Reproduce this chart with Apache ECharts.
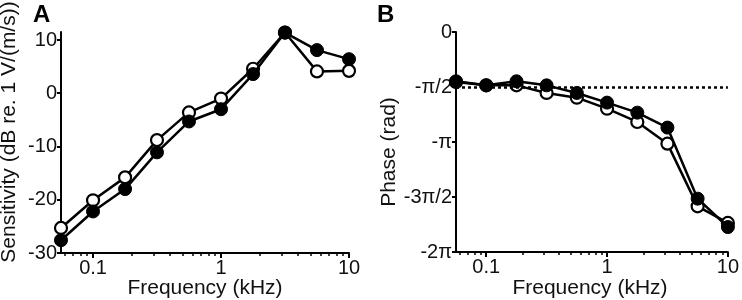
<!DOCTYPE html>
<html>
<head>
<meta charset="utf-8">
<script src="https://cdn.jsdelivr.net/npm/echarts@6/dist/echarts.min.js"></script>
<style>html,body{margin:0;padding:0;background:#fff}#c{width:742px;height:300px}</style>
</head>
<body>
<div id="c"></div>
<script>
// Frequencies (kHz)
var freqs = [0.0562, 0.1, 0.178, 0.316, 0.562, 1, 1.78, 3.16, 5.62, 10];
// Panel A: sensitivity (dB re. 1 V/(m/s))
var sensFilled = [-27.6, -22.2, -18.0, -11.1, -5.3, -3.0, 3.6, 11.4, 8.1, 6.4];
var sensOpen   = [-25.3, -20.1, -15.8, -8.8, -3.6, -1.0, 4.6, 11.4, 4.1, 4.2];
// Panel B: phase (in units of pi rad)
var phaseFilled = [-0.448, -0.485, -0.448, -0.485, -0.554, -0.642, -0.733, -0.869, -1.515, -1.773];
var phaseOpen   = [-0.455, -0.485, -0.485, -0.554, -0.597, -0.697, -0.818, -1.015, -1.585, -1.736];
// Tick labels
var xMajor = [0.1, 1, 10];
var xMinor = [0.06, 0.07, 0.08, 0.09, 0.2, 0.3, 0.4, 0.5, 0.6, 0.7, 0.8, 0.9, 2, 3, 4, 5, 6, 7, 8, 9];
var yTicksA = [-30, -20, -10, 0, 10];
var yTicksB = [-2, -1.5, -1, -0.5, 0];
var yLabelsB = {'-2': '-2π', '-1.5': '-3π/2', '-1': '-π', '-0.5': '-π/2', '0': '0'};
var refPhase = -0.5;

var FONT = "'Liberation Sans', Arial, Helvetica, sans-serif";
var TXT = '#111';
function pairs(xs, ys) { return xs.map(function (f, i) { return [Math.log10(f), ys[i]]; }); }
var logMin = Math.log10(freqs[0]);

function xAxes(gi) {
  return [{
    type: 'value', gridIndex: gi, min: logMin, max: 1, position: 'bottom',
    axisLine: {onZero: false, lineStyle: {color: '#000', width: 2}},
    axisTick: {show: true, length: 5, lineStyle: {color: '#000', width: 2}, customValues: xMajor.map(Math.log10)},
    axisLabel: {color: TXT, fontSize: 20, fontFamily: FONT, margin: 5,
      customValues: xMajor.map(Math.log10),
      formatter: function (v) { var r = Math.pow(10, v); return r < 0.5 ? '0.1' : (r < 5 ? '1' : '10'); }},
    splitLine: {show: false}
  }, {
    type: 'value', gridIndex: gi, min: logMin, max: 1, position: 'bottom',
    axisLine: {show: false, onZero: false},
    axisTick: {show: true, length: 3, lineStyle: {color: '#000', width: 1.5}, customValues: xMinor.map(Math.log10)},
    axisLabel: {show: false}, splitLine: {show: false}
  }];
}

var lineStyle = {color: '#000', width: 2.5};
function ser(data, xi, yi, filled, z) {
  return {
    type: 'line', xAxisIndex: xi, yAxisIndex: yi, data: data, z: z,
    symbol: 'circle', symbolSize: filled ? 13 : 12, showSymbol: true,
    lineStyle: lineStyle,
    itemStyle: filled ? {color: '#000', borderColor: '#000', borderWidth: 1} : {color: '#fff', borderColor: '#000', borderWidth: 2.2},
    animation: false, silent: true
  };
}

var chart = echarts.init(document.getElementById('c'), null, {renderer: 'canvas'});
var xa = xAxes(0).concat(xAxes(1));
chart.setOption({
  animation: false,
  grid: [
    {left: 61, top: 32, width: 288, height: 221},
    {left: 456, top: 32, width: 275, height: 220}
  ],
  xAxis: xa,
  yAxis: [{
    type: 'value', gridIndex: 0, min: -30, max: 11.5, position: 'left',
    axisLine: {show: true, onZero: false, lineStyle: {color: '#000', width: 2}},
    axisTick: {show: true, length: 4, lineStyle: {color: '#000', width: 2}, customValues: yTicksA},
    axisLabel: {color: TXT, fontSize: 20, fontFamily: FONT, margin: 4, customValues: yTicksA},
    splitLine: {show: false}
  }, {
    type: 'value', gridIndex: 1, min: -2, max: 0, position: 'left',
    axisLine: {show: true, onZero: false, lineStyle: {color: '#000', width: 2}},
    axisTick: {show: true, length: 4, lineStyle: {color: '#000', width: 2}, customValues: yTicksB},
    axisLabel: {color: TXT, fontSize: 20, fontFamily: FONT, margin: 4, customValues: yTicksB,
      formatter: function (v) { return yLabelsB[String(Math.round(v * 2) / 2)]; }},
    splitLine: {show: false}
  }],
  series: [
    ser(pairs(freqs, sensOpen), 0, 0, false, 2),
    ser(pairs(freqs, sensFilled), 0, 0, true, 3),
    Object.assign(ser(pairs(freqs, phaseOpen), 2, 1, false, 2), {
      markLine: {silent: true, symbol: ['none', 'none'], label: {show: false},
        lineStyle: {color: '#000', type: [3, 3], width: 2.5},
        data: [{yAxis: refPhase}]}
    }),
    ser(pairs(freqs, phaseFilled), 2, 1, true, 3)
  ],
  graphic: [
    {type: 'text', left: 33, top: 3, style: {text: 'A', font: 'bold 24px ' + FONT, fill: '#000'}},
    {type: 'text', left: 377, top: 3, style: {text: 'B', font: 'bold 24px ' + FONT, fill: '#000'}},
    {type: 'text', x: 9, y: 132, rotation: Math.PI / 2,
      style: {text: 'Sensitivity (dB re. 1 V/(m/s))', font: '21px ' + FONT, fill: TXT, align: 'center', verticalAlign: 'middle'}},
    {type: 'text', x: 389, y: 152, rotation: Math.PI / 2,
      style: {text: 'Phase (rad)', font: '21px ' + FONT, fill: TXT, align: 'center', verticalAlign: 'middle'}},
    {type: 'text', x: 205, y: 288,
      style: {text: 'Frequency (kHz)', font: '21px ' + FONT, fill: TXT, align: 'center', verticalAlign: 'middle'}},
    {type: 'text', x: 590, y: 288,
      style: {text: 'Frequency (kHz)', font: '21px ' + FONT, fill: TXT, align: 'center', verticalAlign: 'middle'}}
  ]
});
</script>
</body>
</html>
